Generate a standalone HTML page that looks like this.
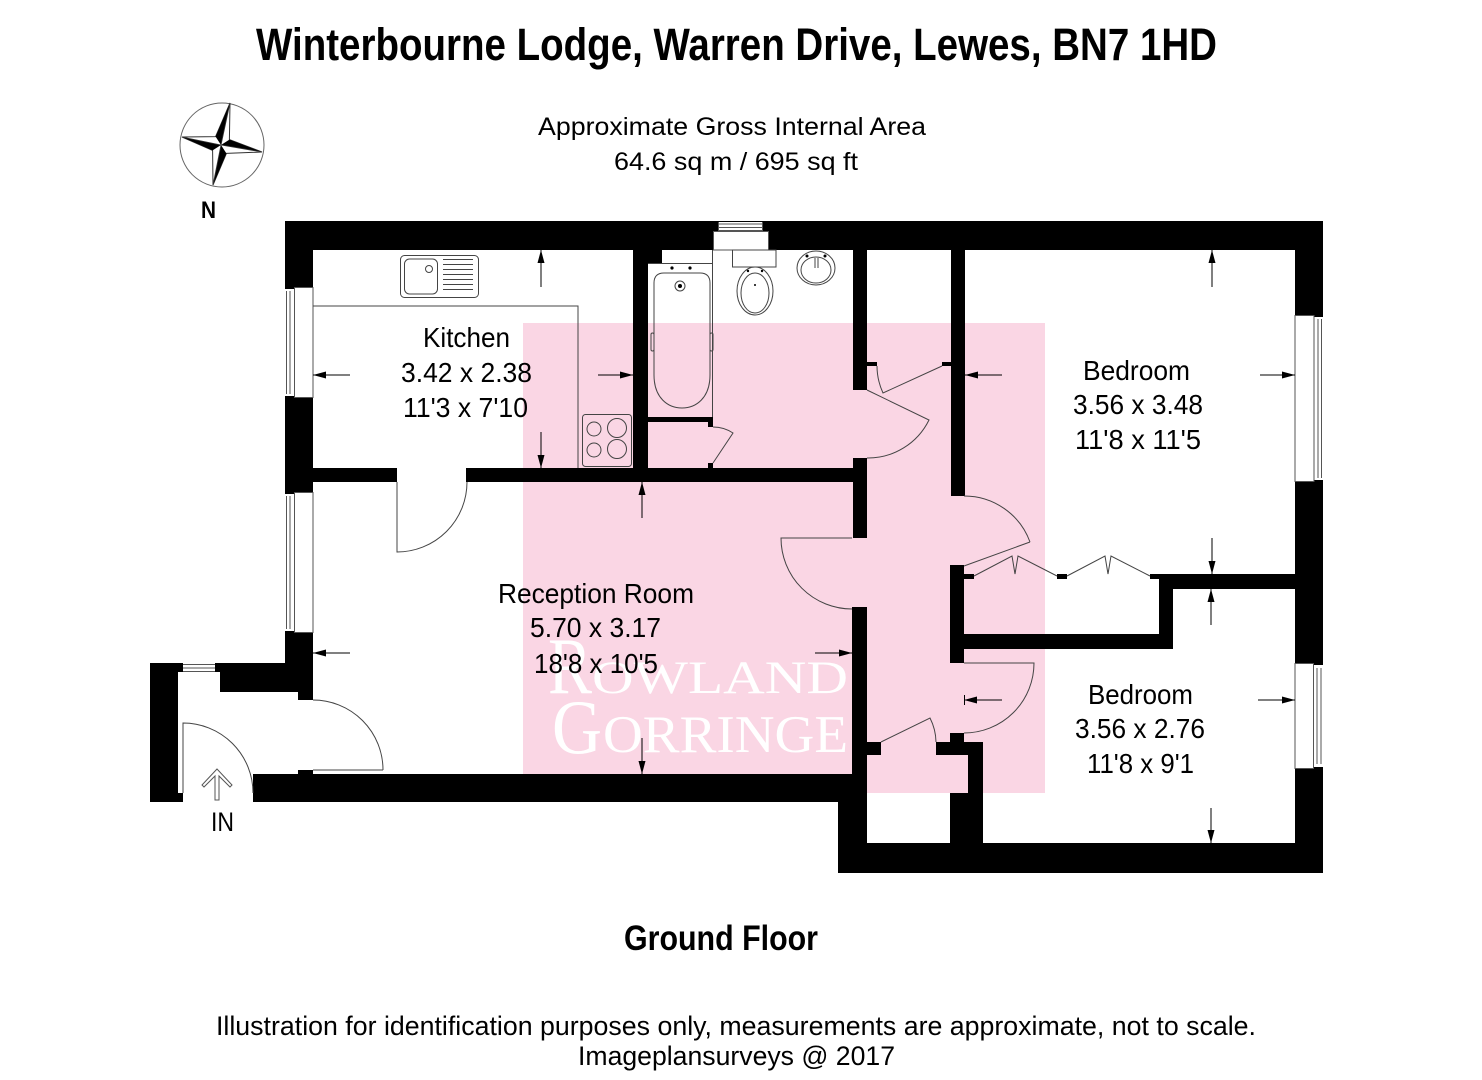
<!DOCTYPE html>
<html><head><meta charset="utf-8">
<style>html,body{margin:0;padding:0;background:#fff;width:1482px;height:1080px;overflow:hidden}svg{display:block}</style>
</head><body>
<svg width="1482" height="1080" viewBox="0 0 1482 1080" xmlns="http://www.w3.org/2000/svg" font-family="'Liberation Sans', Arial, sans-serif">
<rect x="0" y="0" width="1482" height="1080" fill="#fff"/>

<!-- Titles -->
<text x="256" y="60" font-size="45" font-weight="bold" textLength="961" lengthAdjust="spacingAndGlyphs">Winterbourne Lodge, Warren Drive, Lewes, BN7 1HD</text>
<text x="538" y="135" font-size="25" textLength="388" lengthAdjust="spacingAndGlyphs">Approximate Gross Internal Area</text>
<text x="614" y="170" font-size="25" textLength="244" lengthAdjust="spacingAndGlyphs">64.6 sq m / 695 sq ft</text>

<!-- Compass -->
<circle cx="222" cy="145" r="42" fill="none" stroke="#666" stroke-width="1"/>
<polygon points="230,103 229.4,139.6 262,152 226.4,153.4 213,185 212.6,150.4 182,137 215.6,136.6" fill="#fff" stroke="#333" stroke-width="1"/>
<polygon points="221,145 215.6,136.6 230,103" fill="#000"/>
<polygon points="221,145 182,137 212.6,150.4" fill="#000"/>
<polygon points="221,145 213,185 226.4,153.4" fill="#000"/>
<polygon points="221,145 262,152 229.4,139.6" fill="#000"/>
<g stroke="#333" stroke-width="0.8">
<line x1="221" y1="145" x2="230" y2="103"/><line x1="221" y1="145" x2="262" y2="152"/>
<line x1="221" y1="145" x2="213" y2="185"/><line x1="221" y1="145" x2="182" y2="137"/>
</g>
<text x="201" y="218" font-size="24" font-weight="bold" textLength="15" lengthAdjust="spacingAndGlyphs">N</text>

<!-- Pink highlight -->
<rect x="523" y="323" width="522" height="470" fill="#fad6e4"/>

<!-- Watermark -->
<g fill="#fff" font-family="'Liberation Serif', serif">
<text x="548" y="693" font-size="80" textLength="44" lengthAdjust="spacingAndGlyphs">R</text>
<text x="592" y="693" font-size="47" textLength="256" lengthAdjust="spacingAndGlyphs">OWLAND</text>
<text x="552" y="753" font-size="77" textLength="50" lengthAdjust="spacingAndGlyphs">G</text>
<text x="603" y="752" font-size="53" textLength="245" lengthAdjust="spacingAndGlyphs">ORRINGE</text>
</g>

<!-- Walls -->
<g fill="#000">
<rect x="285" y="221" width="1038" height="29"/>
<rect x="285" y="221" width="28" height="471"/>
<rect x="298" y="692" width="15" height="8"/>
<rect x="215" y="663" width="70" height="9"/>
<rect x="220" y="672" width="65" height="20"/>
<rect x="150" y="663" width="33" height="9"/>
<rect x="150" y="663" width="28" height="139"/>
<rect x="178" y="793" width="5" height="9"/>
<rect x="253" y="774" width="614" height="28"/>
<rect x="253" y="774" width="4" height="19" transform="translate(0,-0)"/>
<rect x="298" y="770" width="15" height="5"/>
<rect x="838" y="774" width="29" height="99"/>
<rect x="838" y="843" width="485" height="30"/>
<rect x="1295" y="221" width="28" height="652"/>
<rect x="313" y="468" width="84" height="14"/>
<rect x="466" y="468" width="401" height="14"/>
<rect x="633" y="250" width="15" height="232"/>
<rect x="648" y="250" width="14" height="13"/>
<rect x="648" y="417" width="65" height="5"/>
<rect x="708" y="417" width="5" height="10"/>
<rect x="708" y="463" width="5" height="5"/>
<rect x="853" y="250" width="14" height="140"/>
<rect x="853" y="458" width="14" height="80"/>
<rect x="852" y="607" width="15" height="167"/>
<rect x="867" y="362" width="10" height="4"/>
<rect x="942" y="362" width="9" height="4"/>
<rect x="951" y="250" width="14" height="246"/>
<rect x="950" y="565" width="14" height="98"/>
<rect x="950" y="733" width="14" height="22"/>
<rect x="964" y="574" width="10" height="5"/>
<rect x="1057" y="574" width="10" height="5"/>
<rect x="1150" y="574" width="10" height="5"/>
<rect x="1159" y="574" width="14" height="75"/>
<rect x="1159" y="574" width="136" height="15"/>
<rect x="964" y="634" width="209" height="15"/>
<rect x="867" y="742" width="14" height="13"/>
<rect x="936" y="742" width="47" height="13"/>
<rect x="968" y="742" width="15" height="51"/>
<rect x="950" y="793" width="33" height="50"/>
</g>

<!-- Windows -->
<g fill="#fff" stroke="#555" stroke-width="1">
<rect x="285" y="289" width="28" height="107" stroke="none"/>
<rect x="294.5" y="287.5" width="18.5" height="110"/>
<line x1="286.5" y1="291" x2="286.5" y2="394"/><line x1="290" y1="291" x2="290" y2="394"/>
<rect x="285" y="494" width="28" height="137" stroke="none"/>
<rect x="294.5" y="492.5" width="18.5" height="140"/>
<line x1="286.5" y1="496" x2="286.5" y2="629"/><line x1="290" y1="496" x2="290" y2="629"/>
<rect x="1295" y="317" width="28" height="163" stroke="none"/>
<rect x="1295" y="315.5" width="19" height="166"/>
<line x1="1318" y1="319" x2="1318" y2="478"/><line x1="1321.5" y1="319" x2="1321.5" y2="478"/>
<rect x="1295" y="665" width="28" height="102" stroke="none"/>
<rect x="1295" y="663.5" width="18.5" height="105"/>
<line x1="1317" y1="668" x2="1317" y2="764"/><line x1="1321" y1="668" x2="1321" y2="764"/>
<rect x="183" y="663" width="32" height="9" stroke="none"/>
<line x1="183" y1="664.5" x2="215" y2="664.5"/><line x1="183" y1="668" x2="215" y2="668"/><line x1="183" y1="671.5" x2="215" y2="671.5"/>
<rect x="713.5" y="231.5" width="55" height="18.5"/>
<rect x="718" y="222" width="45" height="9" stroke="none"/>
<line x1="718" y1="224" x2="763" y2="224"/><line x1="718" y1="227.5" x2="763" y2="227.5"/><line x1="718" y1="230.5" x2="763" y2="230.5"/>
<line x1="718.5" y1="222" x2="718.5" y2="231"/><line x1="762.5" y1="222" x2="762.5" y2="231"/>
</g>

<!-- Fixtures & doors -->
<g fill="none" stroke="#444" stroke-width="1">
<!-- kitchen counter -->
<path d="M313,306 H578 V468"/>
<!-- sink -->
<rect x="400.5" y="255.5" width="78" height="42" rx="4"/>
<rect x="404.5" y="259" width="33" height="35" rx="5"/>
<circle cx="429" cy="269" r="3.5"/>
<path d="M443,259.5 H473 M443,264.5 H473 M443,269.5 H473 M443,274.5 H473 M443,279.5 H473 M443,284.5 H473 M443,289.5 H473"/>
<!-- hob -->
<rect x="582.5" y="414.5" width="49" height="52" rx="3"/>
<circle cx="594" cy="429" r="7"/><circle cx="617" cy="428" r="9.5"/>
<circle cx="594" cy="450" r="7"/><circle cx="617" cy="449" r="9.5"/>
<!-- bath -->
<path d="M648,263.5 H713 M712.5,250 V417"/>
<path d="M654,283 Q654,273 664,273 H700 Q710,273 710,283 V375 C710,398 696,408 682,408 C668,408 654,398 654,375 Z"/>
<rect x="651" y="333" width="3" height="18" rx="1.5"/><rect x="710" y="333" width="3" height="18" rx="1.5"/>
<circle cx="680" cy="286" r="5"/>
<!-- toilet -->
<rect x="732.5" y="250" width="43.5" height="17"/>
<ellipse cx="755" cy="291" rx="18" ry="24"/>
<ellipse cx="755" cy="293" rx="14" ry="20"/>
<!-- basin -->
<ellipse cx="816" cy="268" rx="19" ry="17"/>
<ellipse cx="816" cy="270" rx="15" ry="13"/>
<path d="M815,258 V268 M818,258 V268"/>
<!-- bath cupboard door -->
<path d="M713,463 L733,433 A36,36 0 0 0 713,427"/>
<!-- kitchen door -->
<path d="M397,482 V552 A70,70 0 0 0 467,482"/>
<!-- reception door from hall -->
<path d="M852,538 H781 A71,71 0 0 0 852,609"/>
<!-- entrance-reception door -->
<path d="M313,770 H383 M313,700 A70,70 0 0 1 383,770"/>
<!-- entry door -->
<path d="M183,793 V723 A70,70 0 0 1 253,793"/>
<!-- bathroom door -->
<path d="M867,390 L929,420 A68,68 0 0 1 867,458"/>
<!-- hall cupboard door -->
<path d="M942,366 L883,393 A65,65 0 0 1 877,366"/>
<!-- bedroom 1 door -->
<path d="M964,566 L1030,542 M964,496 A70,70 0 0 1 1030,542"/>
<!-- bedroom 2 door -->
<path d="M964,663 H1034 A70,70 0 0 1 964,733"/>
<!-- hall bottom cupboard door -->
<path d="M881,742 L930,718 A55,55 0 0 1 936,742"/>
<!-- wardrobe bifold -->
<path d="M974,576 L1012,556 L1015,574 L1018,556 L1057,576"/>
<path d="M1067,576 L1105,556 L1108,574 L1111,556 L1150,576"/>
</g>
<g fill="#000">
<circle cx="680" cy="286" r="2"/>
<circle cx="672" cy="268" r="1.6"/><circle cx="690" cy="268" r="1.6"/>
<circle cx="748" cy="271" r="1.2"/><circle cx="762" cy="271" r="1.2"/>
<circle cx="755" cy="285" r="1"/>
<circle cx="807" cy="256" r="1.5"/><circle cx="825" cy="256" r="1.5"/>
</g>

<!-- IN arrow -->
<path d="M217,769 L202,785 L204,787 L215,776 L215,800 L219,800 L219,776 L230,787 L232,785 Z" fill="#fff" stroke="#555" stroke-width="1"/>

<!-- Dimension arrows -->
<g stroke="#000" stroke-width="1">
<line x1="541" y1="250" x2="541" y2="287"/><line x1="541" y1="432" x2="541" y2="468"/>
<line x1="313" y1="375" x2="350" y2="375"/><line x1="598" y1="375" x2="633" y2="375"/>
<line x1="1212" y1="250" x2="1212" y2="287"/><line x1="1212" y1="538" x2="1212" y2="574"/>
<line x1="965" y1="375" x2="1002" y2="375"/><line x1="1260" y1="375" x2="1295" y2="375"/>
<line x1="642" y1="482" x2="642" y2="518"/><line x1="642" y1="738" x2="642" y2="774"/>
<line x1="313" y1="653" x2="350" y2="653"/><line x1="815" y1="653" x2="852" y2="653"/>
<line x1="1211" y1="589" x2="1211" y2="625"/><line x1="1211" y1="808" x2="1211" y2="843"/>
<line x1="964" y1="700" x2="1002" y2="700"/><line x1="964.5" y1="695" x2="964.5" y2="705"/>
<line x1="1258" y1="700" x2="1295" y2="700"/>
</g>
<g fill="#000">
<polygon points="541,250 537.5,263 544.5,263"/><polygon points="541,468 537.5,455 544.5,455"/>
<polygon points="313,375 326,371.5 326,378.5"/><polygon points="633,375 620,371.5 620,378.5"/>
<polygon points="1212,250 1208.5,263 1215.5,263"/><polygon points="1212,574 1208.5,561 1215.5,561"/>
<polygon points="965,375 978,371.5 978,378.5"/><polygon points="1295,375 1282,371.5 1282,378.5"/>
<polygon points="642,482 638.5,495 645.5,495"/><polygon points="642,774 638.5,761 645.5,761"/>
<polygon points="313,653 326,649.5 326,656.5"/><polygon points="852,653 839,649.5 839,656.5"/>
<polygon points="1211,589 1207.5,602 1214.5,602"/><polygon points="1211,843 1207.5,830 1214.5,830"/>
<polygon points="964,700 977,696.5 977,703.5"/><polygon points="1295,700 1282,696.5 1282,703.5"/>
</g>

<!-- Room labels -->
<g font-size="28" fill="#000">
<text x="423" y="347" textLength="87" lengthAdjust="spacingAndGlyphs">Kitchen</text>
<text x="401" y="382" textLength="131" lengthAdjust="spacingAndGlyphs">3.42 x 2.38</text>
<text x="403" y="417" textLength="125" lengthAdjust="spacingAndGlyphs">11'3 x 7'10</text>
<text x="1083" y="380" textLength="107" lengthAdjust="spacingAndGlyphs">Bedroom</text>
<text x="1073" y="414" textLength="130" lengthAdjust="spacingAndGlyphs">3.56 x 3.48</text>
<text x="1075" y="449" textLength="126" lengthAdjust="spacingAndGlyphs">11'8 x 11'5</text>
<text x="498" y="603" textLength="196" lengthAdjust="spacingAndGlyphs">Reception Room</text>
<text x="530" y="637" textLength="131" lengthAdjust="spacingAndGlyphs">5.70 x 3.17</text>
<text x="534" y="673" textLength="124" lengthAdjust="spacingAndGlyphs">18'8 x 10'5</text>
<text x="1088" y="704" textLength="105" lengthAdjust="spacingAndGlyphs">Bedroom</text>
<text x="1075" y="738" textLength="130" lengthAdjust="spacingAndGlyphs">3.56 x 2.76</text>
<text x="1087" y="773" textLength="107" lengthAdjust="spacingAndGlyphs">11'8 x 9'1</text>
<text x="211" y="831" font-size="27" textLength="23" lengthAdjust="spacingAndGlyphs">IN</text>
</g>

<!-- Footer -->
<text x="624" y="950" font-size="35" font-weight="bold" textLength="194" lengthAdjust="spacingAndGlyphs">Ground Floor</text>
<text x="216" y="1035" font-size="27" textLength="1040" lengthAdjust="spacingAndGlyphs">Illustration for identification purposes only, measurements are approximate, not to scale.</text>
<text x="578" y="1065" font-size="27" textLength="317" lengthAdjust="spacingAndGlyphs">Imageplansurveys @ 2017</text>
</svg>
</body></html>
